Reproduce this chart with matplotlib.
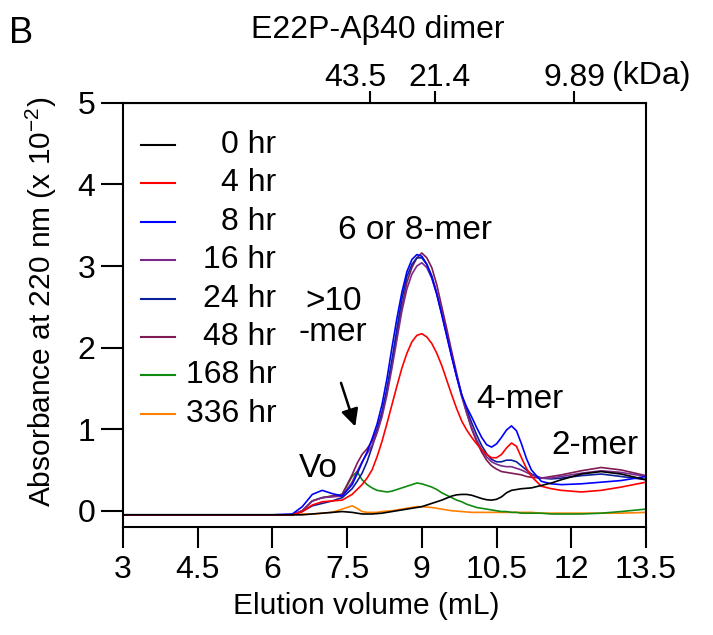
import matplotlib
matplotlib.use('Agg')
from matplotlib import pyplot as plt
from matplotlib.transforms import ScaledTranslation

plt.rcParams['font.family'] = ['Liberation Sans', 'DejaVu Sans']

# elution volume (mL) shared by every trace
vol = [3.0, 6.0, 6.4, 6.6, 6.8, 7.0, 7.2, 7.4, 7.6, 7.7,
       7.8, 7.9, 8.0, 8.1, 8.2, 8.3, 8.4, 8.5, 8.6, 8.7, 8.8, 8.9, 9.0, 9.1, 9.2, 9.3,
       9.4, 9.5, 9.6, 9.7, 9.8, 9.9, 10.0, 10.1, 10.2, 10.3, 10.4, 10.5, 10.6, 10.7,
       10.8, 10.9, 11.0, 11.1, 11.2,
       11.4, 11.6, 11.8, 12.2, 12.6, 13.0, 13.5]

a_0 = [-0.05, -0.05, -0.05, -0.05, -0.04, -0.03, -0.02, -0.01, -0.02, -0.03,
       -0.04, -0.04, -0.04, -0.035, -0.03, -0.02, -0.01, 0.0, 0.01, 0.02, 0.03, 0.04,
       0.05, 0.07, 0.09, 0.11, 0.13, 0.155, 0.18, 0.195, 0.2, 0.2, 0.19, 0.17, 0.15,
       0.135, 0.13, 0.14, 0.17, 0.22, 0.25, 0.26, 0.27, 0.275, 0.28,
       0.31, 0.34, 0.38, 0.45, 0.48, 0.45, 0.38]
a_4 = [-0.05, -0.05, -0.05, -0.01, 0.07, 0.11, 0.12, 0.13, 0.20, 0.26,
       0.32, 0.40, 0.50, 0.66, 0.85, 1.07, 1.30, 1.53, 1.75, 1.93, 2.07, 2.15, 2.17,
       2.13, 2.05, 1.93, 1.78, 1.60, 1.42, 1.25, 1.10, 0.99, 0.90, 0.82, 0.75, 0.69,
       0.65, 0.65, 0.69, 0.77, 0.83, 0.79, 0.65, 0.52, 0.42,
       0.30, 0.27, 0.25, 0.23, 0.25, 0.29, 0.35]
a_8 = [-0.05, -0.05, -0.04, 0.05, 0.20, 0.25, 0.21, 0.18, 0.32, 0.45,
       0.59, 0.72, 0.88, 1.06, 1.30, 1.62, 2.00, 2.36, 2.68, 2.93, 3.08, 3.14, 3.12,
       3.02, 2.86, 2.65, 2.40, 2.14, 1.88, 1.64, 1.42, 1.27, 1.15, 1.02, 0.90, 0.81,
       0.78, 0.82, 0.90, 0.99, 1.04, 0.98, 0.82, 0.64, 0.50,
       0.36, 0.33, 0.32, 0.33, 0.35, 0.37, 0.42]
a_16 = [-0.05, -0.05, -0.05, 0.00, 0.12, 0.16, 0.17, 0.18, 0.35, 0.48,
        0.60, 0.70, 0.80, 0.95, 1.15, 1.42, 1.75, 2.10, 2.45, 2.72, 2.90, 3.00, 3.04,
        2.98, 2.85, 2.66, 2.42, 2.16, 1.90, 1.64, 1.40, 1.20, 1.02, 0.87, 0.75, 0.66,
        0.60, 0.57, 0.55, 0.54, 0.54, 0.52, 0.50, 0.47, 0.44,
        0.40, 0.40, 0.42, 0.46, 0.49, 0.47, 0.42]
a_24 = [-0.05, -0.05, -0.05, -0.01, 0.06, 0.09, 0.12, 0.16, 0.27, 0.36,
        0.46, 0.60, 0.78, 0.97, 1.20, 1.50, 1.85, 2.23, 2.60, 2.87, 3.02, 3.10, 3.10,
        3.02, 2.88, 2.67, 2.42, 2.16, 1.90, 1.65, 1.42, 1.24, 1.08, 0.93, 0.80, 0.70,
        0.63, 0.60, 0.60, 0.62, 0.62, 0.60, 0.55, 0.50, 0.45,
        0.40, 0.39, 0.40, 0.43, 0.45, 0.42, 0.38]
a_48 = [-0.05, -0.05, -0.05, 0.00, 0.12, 0.16, 0.18, 0.20, 0.44, 0.58,
        0.69, 0.76, 0.85, 1.00, 1.20, 1.47, 1.80, 2.15, 2.50, 2.80, 2.98, 3.10, 3.16,
        3.10, 2.98, 2.77, 2.50, 2.23, 1.95, 1.68, 1.42, 1.20, 1.00, 0.85, 0.72, 0.62,
        0.55, 0.51, 0.48, 0.47, 0.46, 0.45, 0.44, 0.42, 0.41,
        0.40, 0.42, 0.44, 0.49, 0.53, 0.50, 0.43]
a_168 = [-0.05, -0.05, -0.05, 0.00, 0.12, 0.16, 0.18, 0.20, 0.42, 0.48,
         0.38, 0.32, 0.28, 0.25, 0.24, 0.23, 0.24, 0.26, 0.28, 0.30, 0.32, 0.34, 0.33,
         0.31, 0.29, 0.26, 0.22, 0.19, 0.16, 0.13, 0.11, 0.08, 0.06, 0.04, 0.03, 0.02,
         0.01, 0.00, -0.01, -0.01, -0.02, -0.02, -0.03, -0.03, -0.03,
         -0.03, -0.04, -0.04, -0.04, -0.03, -0.01, 0.02]
a_336 = [-0.05, -0.05, -0.05, -0.04, -0.04, -0.03, -0.02, 0.02, 0.06, 0.03,
         -0.01, -0.02, -0.02, -0.02, -0.01, -0.005, 0.0, 0.01, 0.02, 0.03, 0.04, 0.05,
         0.05, 0.045, 0.04, 0.03, 0.02, 0.01, 0.0, -0.005, -0.01, -0.015, -0.02, -0.02,
         -0.02, -0.02, -0.02, -0.02, -0.02, -0.02, -0.02, -0.02, -0.02, -0.02, -0.02,
         -0.03, -0.03, -0.03, -0.03, -0.03, -0.03, -0.02]

labels = ['0 hr', '4 hr', '8 hr', '16 hr', '24 hr', '48 hr', '168 hr', '336 hr']
series = [a_0, a_4, a_8, a_16, a_24, a_48, a_168, a_336]
colors = ['#000000', '#ff0000', '#0000ff', '#7a2a8a', '#0a1f9a', '#7f1a55', '#118a11', '#ff8000']

# top axis: marker proteins
kda_pos = [7.96, 9.26, 12.06]
kda_lab = ['43.5', '21.4', '9.89']

fig = plt.figure(figsize=(7.13, 6.35), dpi=100)
ax = fig.add_axes([0.1725, 0.170, 0.7335, 0.668])

# later time points drawn first so early ones sit on top
for ys, c in zip(series[::-1], colors[::-1]):
    ax.plot(vol, ys, color=c, lw=1.2, solid_joinstyle='round')

ax.set_xlim(3, 13.5)
ax.set_ylim(-0.2, 5)
ax.set_xticks([3, 4.5, 6, 7.5, 9, 10.5, 12, 13.5])
ax.set_xticklabels(['3', '4.5', '6', '7.5', '9', '10.5', '12', '13.5'])
ax.set_yticks([0, 1, 2, 3, 4, 5])
ax.tick_params(axis='x', direction='out', length=15, width=1.5, labelsize=23, pad=5)
ax.tick_params(axis='y', direction='out', length=16, width=1.5, labelsize=23, pad=4)
for sp in ax.spines.values():
    sp.set_linewidth(1.5)

ax.set_xlabel('Elution volume (mL)', fontsize=21.5)
ax.xaxis.set_label_coords(0.465, -0.152)
ax.set_ylabel(r'Absorbance at 220 nm (x 10$^{\mathregular{-2}}$)', fontsize=21.5)
ax.yaxis.set_label_coords(-0.123, 0.53)

top = ax.secondary_xaxis('top')
top.set_xticks(kda_pos)
top.set_xticklabels(kda_lab)
top.tick_params(direction='out', length=9, width=1.5, labelsize=23, pad=-2)
# nudge the crowded pair apart like the original
shifts = [-15, 5, 0]
for lbl, dx in zip(top.get_xticklabels(), shifts):
    lbl.set_transform(lbl.get_transform() + ScaledTranslation(dx / 100, 0, fig.dpi_scale_trans))
ax.text(12.06 + 0.75, 5.0 + 0.33, '(kDa)', fontsize=23, ha='left', va='center')

# hand-drawn legend, labels right aligned
for i, (lab, c) in enumerate(zip(labels, colors)):
    yy = 0.901 - i * 0.0906
    ax.plot([0.035, 0.1], [yy, yy], color=c, lw=1.5, transform=ax.transAxes)
    ax.text(0.293, yy, lab, color='black', fontsize=23, ha='right', va='center',
            transform=ax.transAxes)

# peak annotations
ax.text(6.93, 0.52, 'Vo', fontsize=24, ha='center', va='center')
ax.text(8.86, 3.44, '6 or 8-mer', fontsize=24, ha='center', va='center')
ax.text(7.22, 2.37, '>10\n-mer', fontsize=24, ha='center', va='center', linespacing=1.0)
ax.text(10.97, 1.36, '4-mer', fontsize=24, ha='center', va='center')
ax.text(12.48, 0.8, '2-mer', fontsize=24, ha='center', va='center')
ax.annotate('', xy=(7.68, 1.0), xytext=(7.36, 1.6),
            arrowprops=dict(arrowstyle='-|>', color='black', lw=1.8, mutation_scale=26))

fig.text(0.53, 0.953, 'E22P-A\u03b240 dimer', fontsize=23, ha='center', va='center')
fig.text(0.013, 0.948, 'B', fontsize=26, ha='left', va='center')

fig.savefig('out.png', dpi=100)
